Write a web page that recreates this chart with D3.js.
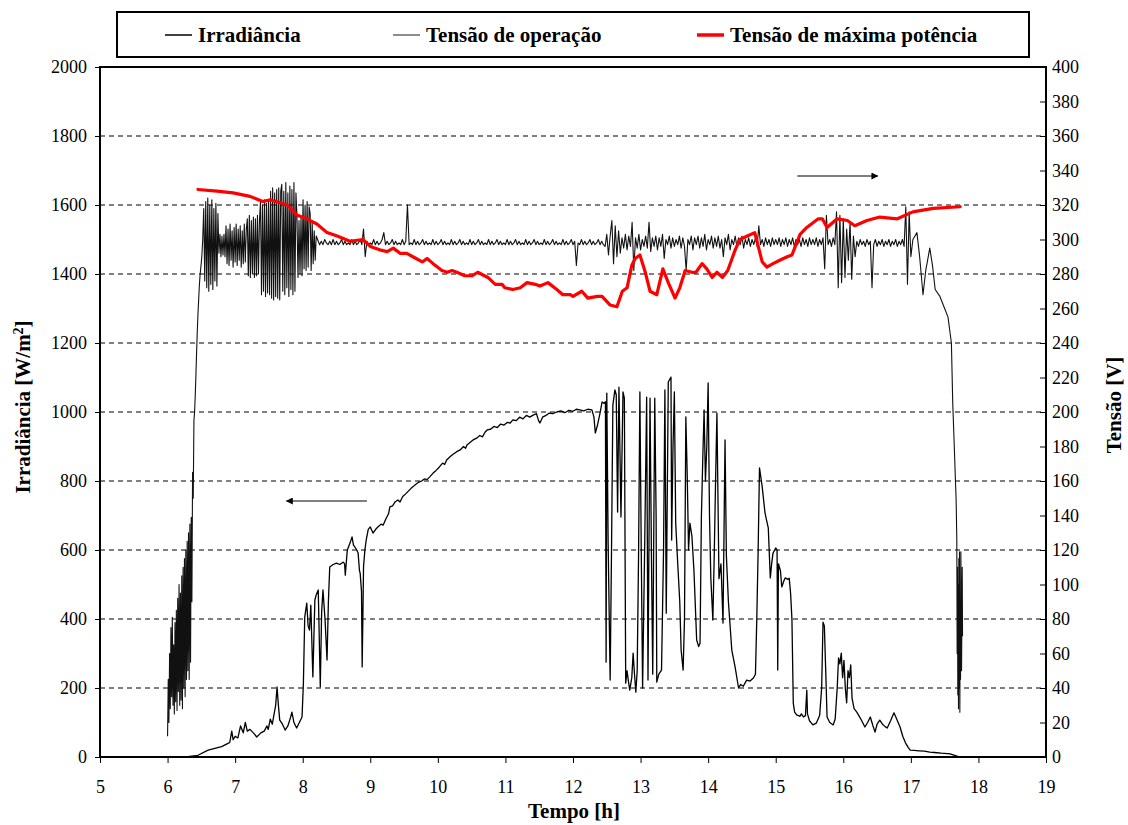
<!DOCTYPE html>
<html><head><meta charset="utf-8">
<script src="https://cdn.jsdelivr.net/npm/d3@7"></script>
<style>
html,body{margin:0;padding:0;background:#fff;}
svg{display:block;}
</style></head>
<body>
<svg id="c" width="1128" height="825"></svg>
<script>
// ---------------- DATA ----------------
const xTicks = [5,6,7,8,9,10,11,12,13,14,15,16,17,18,19];
const leftTicks = [0,200,400,600,800,1000,1200,1400,1600,1800,2000];
const gridValues = [200,400,600,800,1000,1200,1400,1600,1800];
const rightTicks = [0,20,40,60,80,100,120,140,160,180,200,220,240,260,280,300,320,340,360,380,400];
const legendLabels = ["Irradiância","Tensão de operação","Tensão de máxima potência"];

// Irradiance [h, W/m2]
const irradiance = [[6.00,0],[6.30,1],[6.45,5],[6.60,20],[6.70,25],[6.80,30],[6.88,38],[6.92,42],[6.95,75],[6.97,50],[7.00,60],[7.04,55],[7.08,90],[7.12,70],[7.15,100],[7.18,75],[7.22,80],[7.27,70],[7.32,58],[7.38,70],[7.43,75],[7.47,90],[7.49,80],[7.52,110],[7.55,95],[7.60,150],[7.62,203],[7.64,150],[7.66,107],[7.70,95],[7.74,78],[7.78,90],[7.82,115],[7.84,130],[7.87,100],[7.91,84],[7.95,100],[7.99,116],[8.01,214],[8.03,406],[8.06,446],[8.08,380],[8.10,368],[8.12,440],[8.15,232],[8.18,455],[8.20,470],[8.23,484],[8.26,203],[8.28,420],[8.30,484],[8.33,400],[8.36,281],[8.38,450],[8.40,551],[8.45,558],[8.50,562],[8.55,558],[8.60,565],[8.62,560],[8.63,527],[8.66,600],[8.70,620],[8.73,638],[8.75,615],[8.77,609],[8.80,600],[8.82,591],[8.84,540],[8.85,533],[8.87,480],[8.88,261],[8.89,400],[8.90,551],[8.92,600],[8.94,629],[8.97,660],[9.00,667],[9.04,649],[9.08,660],[9.12,668],[9.16,675],[9.19,672],[9.23,690],[9.27,705],[9.29,725],[9.33,728],[9.37,740],[9.41,745],[9.44,739],[9.48,755],[9.52,762],[9.56,770],[9.60,778],[9.63,783],[9.67,790],[9.72,797],[9.76,800],[9.80,806],[9.84,804],[9.88,812],[9.93,823],[9.97,830],[10.02,840],[10.07,852],[10.10,848],[10.13,861],[10.18,870],[10.23,878],[10.28,885],[10.33,890],[10.38,900],[10.41,895],[10.43,904],[10.48,912],[10.53,920],[10.58,925],[10.62,932],[10.66,928],[10.70,942],[10.73,948],[10.78,950],[10.83,958],[10.88,955],[10.93,965],[10.98,962],[11.03,970],[11.07,968],[11.11,977],[11.16,975],[11.21,985],[11.26,980],[11.31,990],[11.36,985],[11.41,991],[11.46,995],[11.49,975],[11.51,968],[11.55,985],[11.60,990],[11.65,997],[11.70,995],[11.76,1000],[11.82,1003],[11.88,998],[11.94,1005],[12.00,1002],[12.05,1008],[12.10,1006],[12.16,1003],[12.22,1008],[12.28,1006],[12.31,985],[12.33,939],[12.36,960],[12.40,997],[12.43,1029],[12.46,1025],[12.48,1030],[12.49,275],[12.50,1055],[12.52,620],[12.55,223],[12.57,600],[12.59,1020],[12.62,1064],[12.64,1050],[12.66,710],[12.68,1072],[12.71,696],[12.74,1058],[12.76,1040],[12.78,214],[12.80,250],[12.82,220],[12.84,194],[12.87,230],[12.89,301],[12.91,240],[12.93,188],[12.95,250],[12.97,580],[12.99,1058],[13.01,600],[13.03,200],[13.06,600],[13.09,1043],[13.11,223],[13.12,500],[13.14,1040],[13.16,600],[13.18,240],[13.21,1040],[13.23,700],[13.24,217],[13.27,240],[13.31,252],[13.34,600],[13.36,1064],[13.38,417],[13.41,1087],[13.45,1101],[13.46,629],[13.48,900],[13.50,1058],[13.52,678],[13.55,560],[13.58,450],[13.60,310],[13.63,252],[13.65,400],[13.67,986],[13.69,820],[13.71,600],[13.73,678],[13.76,640],[13.79,540],[13.83,339],[13.86,320],[13.88,330],[13.90,696],[13.92,860],[13.94,1006],[13.96,800],[13.98,900],[14.00,1084],[14.02,700],[14.04,517],[14.07,397],[14.09,583],[14.11,800],[14.13,997],[14.16,517],[14.19,560],[14.22,388],[14.25,919],[14.27,583],[14.30,450],[14.35,310],[14.40,260],[14.45,200],[14.48,210],[14.52,205],[14.57,223],[14.62,220],[14.67,229],[14.70,240],[14.72,400],[14.74,600],[14.76,838],[14.80,783],[14.84,710],[14.86,690],[14.89,664],[14.92,519],[14.94,560],[14.96,591],[15.00,606],[15.02,600],[15.03,252],[15.04,560],[15.07,540],[15.09,493],[15.12,510],[15.14,519],[15.18,515],[15.20,518],[15.22,475],[15.24,400],[15.26,156],[15.28,130],[15.31,122],[15.36,118],[15.38,125],[15.41,116],[15.44,120],[15.46,194],[15.47,125],[15.50,105],[15.55,93],[15.60,98],[15.65,120],[15.68,200],[15.70,391],[15.72,380],[15.74,250],[15.76,116],[15.80,100],[15.85,93],[15.88,110],[15.91,200],[15.93,287],[15.95,270],[15.97,301],[15.99,230],[16.01,280],[16.03,200],[16.05,157],[16.07,250],[16.09,230],[16.11,267],[16.13,170],[16.16,140],[16.20,130],[16.26,110],[16.32,87],[16.36,100],[16.40,116],[16.44,90],[16.47,72],[16.50,95],[16.54,107],[16.58,95],[16.62,88],[16.65,84],[16.70,105],[16.75,128],[16.79,110],[16.84,87],[16.88,60],[16.92,41],[16.96,28],[16.99,20],[17.05,19],[17.12,18],[17.20,17],[17.28,14],[17.35,13],[17.45,11],[17.58,9],[17.66,4],[17.73,0]];

// Operating voltage [V], sampled segments (start hour, step hour, values)
const opA_start = 6.00, opA_step = 0.01;
const opA = [12,45,20,60,28,75,35,81,30,65, 25,78,32,85,27,92,38,100,30,95, 33,105,28,110,40,115,35,120,45,125, 50,130,45,135,55,139,90,165,150,195, 200,210,222,235,247,257,265,273,279,283,287,292];
const opB_start = 6.52, opB_step = 0.015;
const opB = [300,318,276,322,272,324,270,320,274,323,271,318,276,321,273,315,
 292,303,290,302,291,303,290,
 308,286,306,285,309,288,305,284,307,287,309,285,306,288,308,284,305,286,309,287,306,
 312,279,314,278,311,280,313,278,312,279,314,280,311,
 322,268,320,270,323,267,321,269,322,268,
 328,266,330,265,327,267,329,266,330,265,328,
 332,270,328,268,333,272,327,267,331,271,329,268,333,270,327,
 313,278,311,280,313,279,
 323,283,320,282,322,284,319,
 315,282,310,286,305,288,302];
const opC_start = 8.25, opC_step = 0.025;
const opC = [297,299,297,300,298,297,299,297,300,297,
 299,297,298,300,297,299,297,298,297,300,
 297,299,297,298,300,297,306,290,299,297,
 298,297,300,297,299,297,298,300,304,297,
 299,297,298,300,297,299,297,298,297,300,
 297,299,320,297,298,297,300,297,299,297,
 298,300,297,299,297,298,297,300,297,299,
 297,298,300,297,299,297,298,297,300,297,
 299,297,298,300,297,299,297,298,297,300,
 297,299,297,298,300,297,299,297,298,297,
 300,297,299,297,298,300,297,299,297,298,
 297,300,297,299,297,298,300,297,299,297,
 298,297,300,297,299,297,298,300,297,299,
 297,298,297,300,297,299,297,298,300,297,
 299,297,298,297,300,297,299,297,298,300,
 297,299,285,298,297,300,297,299,297,298,
 300,297,299,297,298,300,297,299,297];
const opD_start = 12.475, opD_step = 0.025;
const opD = [296,303,291,302,
 311,286,308,290,305,292,
 301,295,303,294,302,296,310,282,301,295,303,294,
 300,296,302,295,310,293,301,296,
 302,294,301,296,303,289,300,297,302,295,301,296,
 300,297,302,295,301,296,282,300,297,302,294,301,
 297,302,295,301,296,303,294,300,297,302,295,301,
 296,302,295,300,290,301,297,303,294,300,297,302,
 296,301,297,302,295,300,297,301,296,300,297,301,
 296,308,297,300,296,301,297,300,296,301,297,300,
 297,301,296,300,297,301,296,300,297,301,296,300,
 297,300,296,301,297,300,296,301,297,300,297,301,
 296,300,297,301,
 283,314,297,300,296,301,297,
 316,272,314,275,312,278,306,288,310,277,302,290,
 299,296,300,297,299,296,300,297,299,
 272,
 297,300,296,299,297,300,296,299,297,300,296,299,297,300,296,299,297,300,296,319,274,316];
const opE = [[17.00,290],[17.03,300],[17.09,304],[17.13,290],[17.18,268],[17.22,282],[17.28,295],[17.32,285],[17.36,271],[17.43,267],[17.50,260],[17.55,255],[17.60,240],[17.62,205],[17.64,183],[17.66,160],[17.67,149],[17.68,126],[17.685,60],[17.69,110],[17.695,36],[17.70,100],[17.705,28],[17.71,115],[17.715,40],[17.72,119],[17.725,26],[17.73,90],[17.735,45],[17.74,119],[17.75,50],[17.76,110],[17.765,70]];

// Maximum power point voltage [h, V]
const mppVoltage = [[6.45,329],[6.73,328],[6.97,327],[7.22,325],[7.41,322],[7.52,323],[7.69,321],[7.77,320],[7.92,314],[8.06,312],[8.21,309],[8.36,304],[8.51,302],[8.70,299],[8.89,300],[9.00,296],[9.14,294],[9.25,293],[9.34,295],[9.44,292],[9.54,292],[9.63,290],[9.77,287],[9.84,289],[9.93,286],[10.06,282],[10.14,281],[10.21,282],[10.28,281],[10.40,279],[10.51,279],[10.59,281],[10.74,278],[10.85,274],[10.95,274],[10.99,272],[11.11,271],[11.22,272],[11.32,275],[11.44,274],[11.51,273],[11.63,275],[11.76,271],[11.85,268],[11.96,268],[12.00,267],[12.13,270],[12.22,266],[12.36,267],[12.43,267],[12.55,262],[12.65,261],[12.73,270],[12.80,272],[12.87,285],[12.92,289],[12.99,291],[13.07,281],[13.14,270],[13.24,268],[13.33,283],[13.41,275],[13.51,266],[13.58,272],[13.66,282],[13.76,281],[13.82,281],[13.91,286],[13.98,283],[14.06,278],[14.13,281],[14.21,278],[14.29,282],[14.40,294],[14.47,300],[14.58,302],[14.69,304],[14.80,287],[14.87,284],[14.96,286],[15.06,288],[15.17,290],[15.24,291],[15.36,303],[15.46,307],[15.63,312],[15.69,312],[15.76,307],[15.91,312],[16.06,311],[16.17,308],[16.35,311],[16.54,313],[16.80,312],[17.03,316],[17.33,318],[17.73,319]];

// Annotation arrows (data units)
const arrowRight = {from:[15.32,336.8], to:[16.51,336.8]}; // voltage axis
const arrowLeft = {from:[8.95,742], to:[7.76,742]};        // irradiance axis

// ---------------- DRAW ----------------
const svg = d3.select("#c");
const FONT = "'Liberation Serif','Times New Roman',serif";
const L=100,R=1046,T=67,B=757;
const x = d3.scaleLinear().domain([5,19]).range([L,R]);
const yL = d3.scaleLinear().domain([0,2000]).range([B,T]);
const yR = d3.scaleLinear().domain([0,400]).range([B,T]);

function seg(start, step, vals){ return vals.map((v,i)=>[start+i*step, v]); }
const opVoltage = [].concat(seg(opA_start,opA_step,opA), seg(opB_start,opB_step,opB), seg(opC_start,opC_step,opC), seg(opD_start,opD_step,opD), opE);

// grid
svg.append("g").selectAll("line").data(gridValues).join("line")
  .attr("x1",L).attr("x2",R).attr("y1",d=>yL(d)).attr("y2",d=>yL(d))
  .attr("stroke","#000").attr("stroke-width",1).attr("stroke-dasharray","5,4");

svg.append("clipPath").attr("id","pc").append("rect").attr("x",L).attr("y",T).attr("width",R-L).attr("height",B-T);
const plot = svg.append("g").attr("clip-path","url(#pc)");

plot.append("path").datum(irradiance)
  .attr("d", d3.line().x(d=>x(d[0])).y(d=>yL(d[1])))
  .attr("fill","none").attr("stroke","#000").attr("stroke-width",1.3).attr("stroke-linejoin","round");

plot.append("path").datum(opVoltage)
  .attr("d", d3.line().x(d=>x(d[0])).y(d=>yR(d[1])))
  .attr("fill","none").attr("stroke","#111").attr("stroke-width",1.1).attr("stroke-linejoin","round");

plot.append("path").datum(mppVoltage)
  .attr("d", d3.line().x(d=>x(d[0])).y(d=>yR(d[1])))
  .attr("fill","none").attr("stroke","#ff0000").attr("stroke-width",3.2).attr("stroke-linejoin","round").attr("stroke-linecap","round");

// arrows
const defs = svg.append("defs");
defs.append("marker").attr("id","ah").attr("viewBox","0 0 10 10").attr("refX",9).attr("refY",5)
  .attr("markerWidth",8).attr("markerHeight",7).attr("markerUnits","userSpaceOnUse")
  .attr("orient","auto").append("path").attr("d","M0,0L10,5L0,10Z").attr("fill","#000");
svg.append("line").attr("x1",x(arrowRight.from[0])).attr("y1",yR(arrowRight.from[1]))
  .attr("x2",x(arrowRight.to[0])).attr("y2",yR(arrowRight.to[1]))
  .attr("stroke","#555").attr("stroke-width",1.5).attr("marker-end","url(#ah)");
svg.append("line").attr("x1",x(arrowLeft.from[0])).attr("y1",yL(arrowLeft.from[1]))
  .attr("x2",x(arrowLeft.to[0])).attr("y2",yL(arrowLeft.to[1]))
  .attr("stroke","#555").attr("stroke-width",1.5).attr("marker-end","url(#ah)");

// axes
const gx = svg.append("g").attr("transform",`translate(0,${B})`)
  .call(d3.axisBottom(x).tickValues(xTicks).tickFormat(d3.format("d")).tickSizeInner(6).tickSizeOuter(0).tickPadding(17));
const gl = svg.append("g").attr("transform",`translate(${L},0)`)
  .call(d3.axisLeft(yL).tickValues(leftTicks).tickFormat(d3.format("d")).tickSizeInner(5).tickSizeOuter(0).tickPadding(8));
const gr = svg.append("g").attr("transform",`translate(${R},0)`)
  .call(d3.axisRight(yR).tickValues(rightTicks).tickFormat(d3.format("d")).tickSizeInner(-6).tickSizeOuter(0).tickPadding(6));
[gx,gl,gr].forEach(g=>{
  g.attr("font-family",FONT).attr("font-size",18);
  g.selectAll("text").attr("font-family",FONT).attr("font-size",18).attr("fill","#000");
  g.selectAll(".tick line").attr("stroke","#000").attr("stroke-width",1);
  g.select(".domain").remove();
});
// frame
svg.append("rect").attr("x",L).attr("y",T).attr("width",R-L).attr("height",B-T)
  .attr("fill","none").attr("stroke","#000").attr("stroke-width",2);

// axis titles
const lt = svg.append("text").attr("transform","translate(30,407) rotate(-90)")
  .attr("text-anchor","middle").attr("font-family",FONT).attr("font-weight","bold").attr("font-size",21);
lt.append("tspan").text("Irradiância [W/m");
lt.append("tspan").attr("baseline-shift","super").attr("font-size",14).text("2");
lt.append("tspan").text("]");
svg.append("text").attr("transform","translate(1121,405) rotate(-90)")
  .attr("text-anchor","middle").attr("font-family",FONT).attr("font-weight","bold").attr("font-size",21).text("Tensão [V]");
svg.append("text").attr("x",574).attr("y",818).attr("text-anchor","middle")
  .attr("font-family",FONT).attr("font-weight","bold").attr("font-size",21).text("Tempo [h]");

// legend
const lg = svg.append("g");
lg.append("rect").attr("x",117).attr("y",12).attr("width",912).attr("height",45)
  .attr("fill","#fff").attr("stroke","#000").attr("stroke-width",2);
const legX = [165, 393, 697];
const legStroke = ["#000","#666","#ff0000"];
const legW = [1.5,1.5,3.5];
legendLabels.forEach((lab,i)=>{
  lg.append("line").attr("x1",legX[i]).attr("x2",legX[i]+27).attr("y1",35).attr("y2",35)
    .attr("stroke",legStroke[i]).attr("stroke-width",legW[i]);
  lg.append("text").attr("x",legX[i]+33).attr("y",42).attr("font-family",FONT)
    .attr("font-weight","bold").attr("font-size",21).text(lab);
});
</script>
</body></html>
